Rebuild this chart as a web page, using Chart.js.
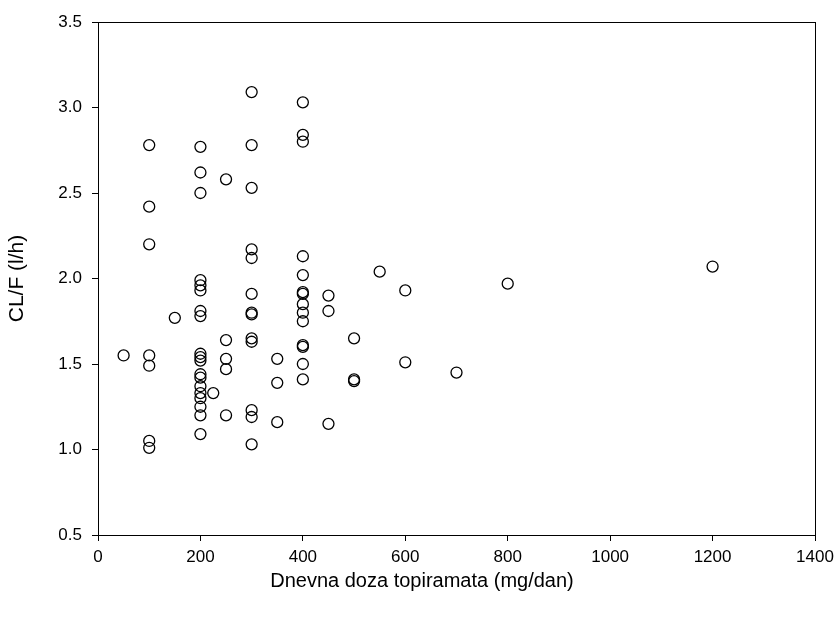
<!DOCTYPE html>
<html>
<head>
<meta charset="utf-8">
<script src="https://cdn.jsdelivr.net/npm/chart.js@4.4.1/dist/chart.umd.min.js"></script>
<style>
  html, body { margin: 0; padding: 0; background: #fff; }
  #wrap { width: 840px; height: 619px; }
</style>
</head>
<body>
<div id="wrap"><canvas id="clChart" width="840" height="619"></canvas></div>
<script>
// daily topiramate dose (mg/day) and apparent clearance CL/F (l/h), one entry per patient
const doses = [
  50,
  100, 100, 100, 100, 100, 100, 100,
  150,
  200, 200, 200, 200, 200, 200, 200, 200, 200, 200, 200, 200, 200, 200, 200, 200, 200, 200, 200,
  225,
  250, 250, 250, 250, 250,
  300, 300, 300, 300, 300, 300, 300, 300, 300, 300, 300, 300, 300,
  350, 350, 350,
  400, 400, 400, 400, 400, 400, 400, 400, 400, 400, 400, 400, 400, 400,
  450, 450, 450,
  500, 500, 500,
  550,
  600, 600,
  700,
  800,
  1200
];
const clearance = [
  1.55,
  2.78, 2.42, 2.20, 1.55, 1.49, 1.05, 1.01,
  1.77,
  2.77, 2.62, 2.50, 1.99, 1.96, 1.93, 1.81, 1.78, 1.56, 1.54, 1.52, 1.44, 1.42, 1.37, 1.33, 1.30, 1.25, 1.20, 1.09,
  1.33,
  2.58, 1.64, 1.53, 1.47, 1.20,
  3.09, 2.78, 2.53, 2.17, 2.12, 1.91, 1.80, 1.79, 1.65, 1.63, 1.23, 1.19, 1.03,
  1.53, 1.39, 1.16,
  3.03, 2.84, 2.80, 2.13, 2.02, 1.92, 1.91, 1.85, 1.80, 1.75, 1.61, 1.60, 1.50, 1.41,
  1.90, 1.81, 1.15,
  1.65, 1.41, 1.40,
  2.04,
  1.93, 1.51,
  1.45,
  1.97,
  2.07
];
const xTicks = [0, 200, 400, 600, 800, 1000, 1200, 1400];
const yTicks = [0.5, 1.0, 1.5, 2.0, 2.5, 3.0, 3.5];
const xTitle = 'Dnevna doza topiramata (mg/dan)';

const points = doses.map((d, i) => ({ x: d, y: clearance[i] }));

const fontFamily = 'Liberation Sans, Arial, sans-serif';
const tickFont = { family: fontFamily, size: 17 };
const titleFont = { family: fontFamily, size: 21 };

// closes the plot box on the top and right sides, and puts the dose title
// under the middle of the page
const frameBox = {
  id: 'frameBox',
  afterDraw(chart) {
    const { ctx, chartArea: a } = chart;
    ctx.save();
    ctx.strokeStyle = '#000';
    ctx.lineWidth = 1;
    ctx.strokeRect(Math.round(a.left) + 0.5, Math.round(a.top) + 0.5,
      Math.round(a.right - a.left), Math.round(a.bottom - a.top));
    ctx.fillStyle = '#000';
    ctx.font = '20px ' + fontFamily;
    ctx.textAlign = 'center';
    ctx.textBaseline = 'middle';
    ctx.fillText(xTitle, 422, 581);
    ctx.restore();
  }
};

new Chart(document.getElementById('clChart').getContext('2d'), {
  type: 'scatter',
  data: {
    datasets: [{
      data: points,
      pointRadius: 5.5,
      pointHoverRadius: 5.5,
      pointBorderWidth: 1.3,
      pointBorderColor: '#000',
      pointBackgroundColor: 'rgba(255,255,255,0)'
    }]
  },
  options: {
    responsive: false,
    animation: false,
    layout: { padding: { top: 22, right: 25, left: 0, bottom: 0 } },
    plugins: { legend: { display: false }, tooltip: { enabled: false } },
    scales: {
      x: {
        type: 'linear',
        min: 0,
        max: 1400,
        afterBuildTicks(scale) { scale.ticks = xTicks.map(v => ({ value: v })); },
        afterFit(scale) { scale.height = 84; },
        grid: { display: true, drawOnChartArea: false, drawTicks: true, tickLength: 6, color: '#000' },
        border: { display: true, color: '#000', width: 1 },
        ticks: { color: '#000', font: tickFont, padding: 6, maxRotation: 0, callback: v => String(v) },
        title: { display: false }
      },
      y: {
        type: 'linear',
        min: 0.5,
        max: 3.5,
        afterBuildTicks(scale) { scale.ticks = yTicks.map(v => ({ value: v })); },
        afterFit(scale) { scale.width = 98; },
        grid: { display: true, drawOnChartArea: false, drawTicks: true, tickLength: 6, color: '#000' },
        border: { display: true, color: '#000', width: 1 },
        ticks: { color: '#000', font: tickFont, padding: 10, callback: v => Number(v).toFixed(1) },
        title: {
          display: true,
          text: 'CL/F (l/h)',
          color: '#000',
          font: titleFont,
          padding: { top: 5, bottom: 0 }
        }
      }
    }
  },
  plugins: [frameBox]
});
</script>
</body>
</html>
